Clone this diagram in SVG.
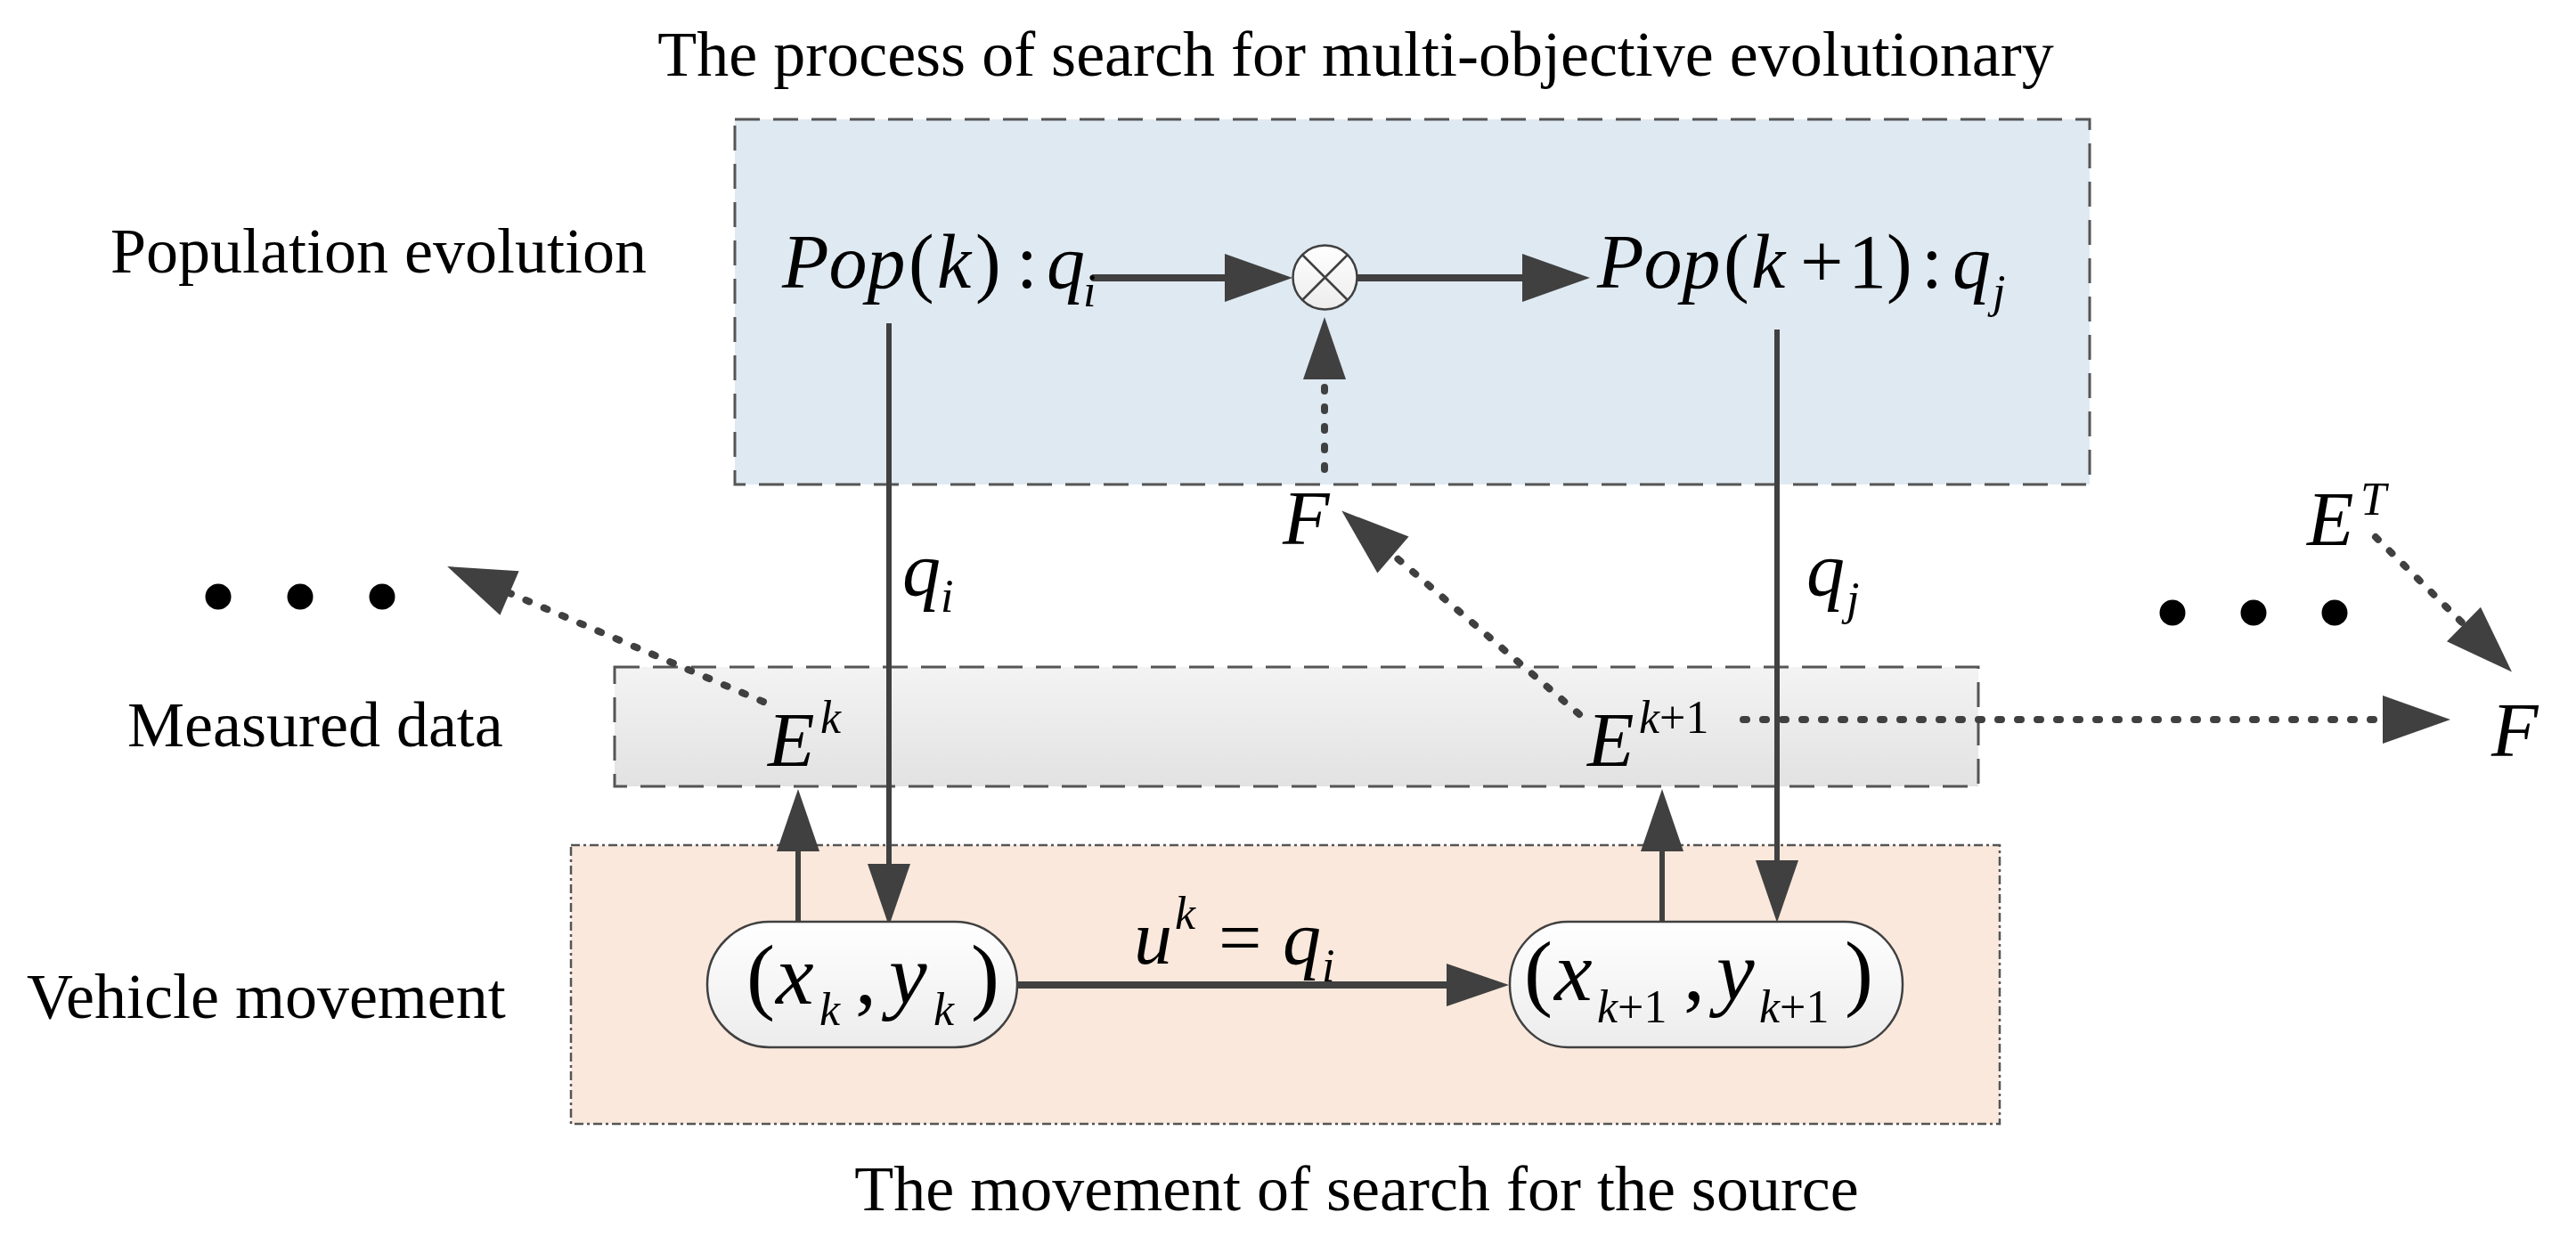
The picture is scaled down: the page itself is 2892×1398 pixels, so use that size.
<svg xmlns="http://www.w3.org/2000/svg" width="2892" height="1398" viewBox="0 0 2892 1398">
<style>
.lbl{font-family:"Liberation Serif","Times New Roman",serif;font-size:72px;fill:#000}
.m{font-family:"Liberation Serif","Times New Roman",serif;font-size:86px;fill:#000}
.i{font-style:italic}
.big{font-size:96px}
.sub{font-size:52px}
.solid{fill:none;stroke:#404040;stroke-width:8;stroke-linecap:round}
.thin{fill:none;stroke:#404040;stroke-width:6;stroke-linecap:butt}
.dot{fill:none;stroke:#404040;stroke-width:8;stroke-linecap:round;stroke-dasharray:4 18}
.frame{stroke:#555;stroke-width:3;stroke-dasharray:28 15}
.shape{stroke:#404040;stroke-width:2.5}
</style>
<defs>
<linearGradient id="gGrey" x1="0" y1="0" x2="0" y2="1"><stop offset="0" stop-color="#f3f3f3"/><stop offset="1" stop-color="#e2e2e2"/></linearGradient>
<linearGradient id="gWhite" x1="0" y1="0" x2="0" y2="1"><stop offset="0" stop-color="#ffffff"/><stop offset="1" stop-color="#ececec"/></linearGradient>
<marker id="ah" markerUnits="userSpaceOnUse" markerWidth="80" markerHeight="60" viewBox="0 -30 80 60" refX="0" refY="0" orient="auto" overflow="visible"><path d="M0,-27 L76,0 L0,27 Z" fill="#404040"/></marker>
<marker id="ahs" markerUnits="userSpaceOnUse" markerWidth="80" markerHeight="60" viewBox="0 -30 80 60" refX="0" refY="0" orient="auto" overflow="visible"><path d="M0,-24 L70,0 L0,24 Z" fill="#404040"/></marker>
</defs>

<text class="lbl" x="1522" y="85" text-anchor="middle">The process of search for multi-objective evolutionary</text>
<text class="lbl" x="124" y="306">Population evolution</text>
<text class="lbl" x="143" y="838">Measured data</text>
<text class="lbl" x="30" y="1143">Vehicle movement</text>
<text class="lbl" x="1523" y="1359" text-anchor="middle">The movement of search for the source</text>

<g id="box-evolution"><rect class="frame" x="825" y="134" width="1521" height="410" fill="#dfe9f2"/></g>
<g id="box-measured"><rect class="frame" x="690" y="749" width="1531" height="134" fill="url(#gGrey)"/></g>
<g id="box-vehicle"><rect x="641" y="949" width="1604" height="313" fill="#fae8dc" stroke="#555" stroke-width="2.5" stroke-dasharray="10 4 3 4"/></g>

<g id="connectors">
<path class="solid" d="M1228,312 L1375,312" marker-end="url(#ah)"/>
<path class="solid" d="M1519,312 L1709,312" marker-end="url(#ah)"/>
<path class="dot" d="M1487,527 L1487,426" marker-end="url(#ahs)"/>
<path class="thin" d="M998,363 L998,970" marker-end="url(#ahs)"/>
<path class="thin" d="M1995,370 L1995,966" marker-end="url(#ahs)"/>
<path class="thin" d="M896,1036 L896,956" marker-end="url(#ahs)"/>
<path class="thin" d="M1866,1036 L1866,956" marker-end="url(#ahs)"/>
<path class="solid" d="M1142,1106 L1624,1106" marker-end="url(#ahs)"/>
<path class="dot" d="M857,788 L572,666" marker-end="url(#ah)"/>
<path class="dot" d="M1773,802 L1564,623" marker-end="url(#ah)"/>
<path class="dot" d="M1957,808 L2675,808" marker-end="url(#ah)"/>
<path class="dot" d="M2667,603 L2766,701" marker-end="url(#ah)"/>
</g>

<g id="node-popk"><text class="m" y="323"><tspan class="i" x="878">Pop</tspan><tspan x="1020">(</tspan><tspan class="i" x="1052">k</tspan><tspan x="1095">)</tspan><tspan x="1141">:</tspan><tspan class="i" x="1175">q</tspan><tspan class="i sub" x="1216" y="344">i</tspan></text></g>

<g id="node-mult"><circle class="shape" cx="1487.5" cy="311.5" r="36" fill="url(#gWhite)"/><path class="shape" d="M1462,286 L1513,337 M1513,286 L1462,337"/></g>

<g id="node-popk1"><text class="m" y="323"><tspan class="i" x="1793">Pop</tspan><tspan x="1935">(</tspan><tspan class="i" x="1966">k</tspan><tspan x="2021">+</tspan><tspan x="2075">1)</tspan><tspan x="2157">:</tspan><tspan class="i" x="2192">q</tspan><tspan class="i sub" x="2237" y="345">j</tspan></text></g>

<g id="node-F-top"><text class="m i" x="1440" y="611">F</text></g>
<g id="label-qi"><text class="m i" y="668"><tspan x="1013">q</tspan><tspan class="sub" x="1056" y="687">i</tspan></text></g>
<g id="label-qj"><text class="m i" y="668"><tspan x="2028">q</tspan><tspan class="sub" x="2073" y="690">j</tspan></text></g>

<g id="node-dots-left"><circle cx="245" cy="670" r="14.5"/><circle cx="337" cy="670" r="14.5"/><circle cx="429" cy="670" r="14.5"/></g>
<g id="node-dots-right"><circle cx="2439" cy="688" r="14.5"/><circle cx="2530" cy="688" r="14.5"/><circle cx="2621" cy="688" r="14.5"/></g>

<g id="node-Ek"><text class="m i" y="860"><tspan x="862">E</tspan><tspan class="sub" x="921" y="823">k</tspan></text></g>
<g id="node-Ek1"><text class="m" y="860"><tspan class="i" x="1782">E</tspan><tspan class="i sub" x="1840" y="823">k</tspan><tspan class="sub">+1</tspan></text></g>
<g id="node-ET"><text class="m i" y="612"><tspan x="2590">E</tspan><tspan class="sub" x="2650" y="578">T</tspan></text></g>
<g id="node-F-right"><text class="m i" x="2797" y="849">F</text></g>

<g id="node-xk"><rect class="shape" x="794" y="1035" width="348" height="141" rx="70" ry="70" fill="url(#gWhite)"/>
<text class="m big" y="1127"><tspan x="838">(</tspan><tspan class="i" x="871">x</tspan><tspan class="i sub" x="920" y="1151">k</tspan><tspan x="960" y="1127">,</tspan><tspan class="i" x="998">y</tspan><tspan class="i sub" x="1048" y="1151">k</tspan><tspan x="1090" y="1127">)</tspan></text></g>

<g id="node-xk1"><rect class="shape" x="1695" y="1035" width="441" height="141" rx="65" ry="70" fill="url(#gWhite)"/>
<text class="m big" y="1123"><tspan x="1711">(</tspan><tspan class="i" x="1745">x</tspan><tspan class="i sub" x="1793" y="1148">k</tspan><tspan class="sub">+1</tspan><tspan x="1890" y="1123">,</tspan><tspan class="i" x="1927">y</tspan><tspan class="i sub" x="1975" y="1148">k</tspan><tspan class="sub">+1</tspan><tspan x="2071" y="1123">)</tspan></text></g>

<g id="label-uk"><text class="m" y="1082"><tspan class="i" x="1273">u</tspan><tspan class="i sub" x="1319" y="1043">k</tspan><tspan x="1368" y="1082">=</tspan><tspan class="i" x="1440">q</tspan><tspan class="i sub" x="1484" y="1102">i</tspan></text></g>
</svg>
